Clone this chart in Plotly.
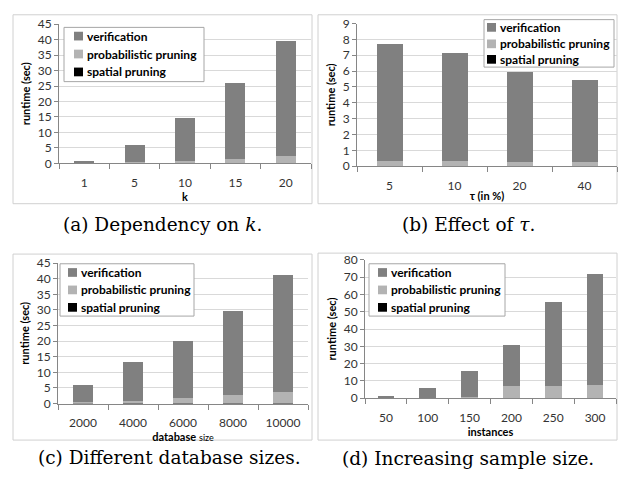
import plotly.graph_objects as go

W, H = 624, 481

# ---- data ----
k_cats = ["1", "5", "10", "15", "20"]
k_total = [0.9, 5.85, 14.8, 26.0, 39.6]
k_prob = [0.05, 0.5, 0.8, 1.35, 2.3]
k_spatial = [0.02, 0.03, 0.04, 0.05, 0.06]

tau_cats = ["5", "10", "20", "40"]
tau_total = [7.72, 7.12, 5.93, 5.42]
tau_prob = [0.33, 0.34, 0.27, 0.27]
tau_spatial = [0.01, 0.01, 0.01, 0.01]

db_cats = ["2000", "4000", "6000", "8000", "10000"]
db_total = [6.0, 13.2, 20.0, 29.5, 41.2]
db_prob = [0.4, 0.9, 1.65, 2.6, 3.7]
db_spatial = [0.02, 0.03, 0.04, 0.05, 0.06]

inst_cats = ["50", "100", "150", "200", "250", "300"]
inst_total = [1.3, 5.9, 15.6, 30.9, 55.7, 71.6]
inst_prob = [0.2, 0.3, 0.4, 6.8, 6.9, 7.8]
inst_spatial = [0.05, 0.05, 0.05, 0.05, 0.05, 0.05]

series_names = ["spatial pruning", "probabilistic pruning", "verification"]
colors = ["#000000", "#b3b3b3", "#808080"]


def px_x(p):
    return p / W


def px_y(p):
    return 1 - p / H


panels = [
    dict(cats=k_cats, total=k_total, prob=k_prob, spatial=k_spatial,
         xr=(59, 311), yr=(16.7, 160.3), ymax=45, dt=5, xtitle="<b>k</b>",
         lbox=(64, 20, 204, 76), lsw=74, lrows=(29, 47.5, 66)),
    dict(cats=tau_cats, total=tau_total, prob=tau_prob, spatial=tau_spatial,
         xr=(357, 617), yr=(16.0, 163.3), ymax=9, dt=1, xtitle="<b>τ (in %)</b>",
         lbox=(484, 12, 614, 61), lsw=487, lrows=(20, 37, 53)),
    dict(cats=db_cats, total=db_total, prob=db_prob, spatial=db_spatial,
         xr=(58, 308), yr=(263.3, 408.3), ymax=45, dt=5,
         xtitle="<b>database</b> <span style='font-size:9px'>size</span>",
         lbox=(60, 264, 194, 318), lsw=68, lrows=(273, 291, 309)),
    dict(cats=inst_cats, total=inst_total, prob=inst_prob, spatial=inst_spatial,
         xr=(365, 616), yr=(260.0, 402.7), ymax=80, dt=10, xtitle="<b>instances</b>",
         lbox=(369, 264, 505, 318), lsw=378, lrows=(273, 291, 309)),
]

fig = go.Figure()
layout = dict(
    width=W, height=H, margin=dict(l=0, r=0, t=0, b=0),
    paper_bgcolor="white", plot_bgcolor="white",
    barmode="stack", bargap=0.6, showlegend=False,
    font=dict(family="Lato, Arial, sans-serif", size=12, color="#333333"),
)

shapes = []
annotations = []

for i, p in enumerate(panels):
    n = i + 1
    xa = "x" if n == 1 else f"x{n}"
    ya = "y" if n == 1 else f"y{n}"
    verif = [t - pr - s for t, pr, s in zip(p["total"], p["prob"], p["spatial"])]
    vals = [p["spatial"], p["prob"], verif]
    for name, col, v in zip(series_names, colors, vals):
        fig.add_trace(go.Bar(
            x=p["cats"], y=v, name=name, marker=dict(color=col, line=dict(width=0)),
            xaxis=xa, yaxis=ya, hoverinfo="skip", showlegend=False,
        ))
    xkey = "xaxis" if n == 1 else f"xaxis{n}"
    ykey = "yaxis" if n == 1 else f"yaxis{n}"
    layout[xkey] = dict(
        domain=[px_x(p["xr"][0]), px_x(p["xr"][1])], anchor=ya, type="category",
        showline=True, linecolor="#868686", linewidth=1,
        ticks="outside", tickson="boundaries", ticklen=5, tickcolor="#868686",
        showgrid=False, ticklabelstandoff=8,
        tickfont=dict(size=12, color="#333333"),
        title=dict(text=p["xtitle"], font=dict(size=11, color="#000000"), standoff=0),
    )
    layout[ykey] = dict(
        domain=[px_y(p["yr"][1]), px_y(p["yr"][0])], anchor=xa, range=[0, p["ymax"]], dtick=p["dt"],
        showline=True, linecolor="#868686", linewidth=1,
        ticks="outside", ticklen=4, tickcolor="#868686",
        showgrid=True, gridcolor="#d9d9d9", gridwidth=1, zeroline=False,
        tickfont=dict(size=12, color="#333333"),
        title=dict(text="<b>runtime (sec)</b>", font=dict(size=11, color="#000000"), standoff=4),
    )

    # legend box (drawn like the original spreadsheet legend)
    bx0, by0, bx1, by1 = p["lbox"]
    shapes.append(dict(type="rect", xref="paper", yref="paper",
                       x0=px_x(bx0), x1=px_x(bx1), y0=px_y(by1), y1=px_y(by0),
                       line=dict(color="#a6a6a6", width=1), fillcolor="white", layer="above"))
    order = [2, 1, 0]  # verification, probabilistic, spatial
    for row, si in zip(p["lrows"], order):
        sw = 9
        shapes.append(dict(type="rect", xref="paper", yref="paper",
                           x0=px_x(p["lsw"]), x1=px_x(p["lsw"] + sw),
                           y0=px_y(row + sw / 2), y1=px_y(row - sw / 2),
                           line=dict(width=0), fillcolor=colors[si], layer="above"))
        annotations.append(dict(text=series_names[si], x=px_x(p["lsw"] + sw + 1.5), y=px_y(row),
                                xref="paper", yref="paper", xanchor="left", yanchor="middle",
                                showarrow=False,
                                font=dict(family="Lato, Arial, sans-serif", size=12,
                                          color="#000000", weight="bold")))

# outer boxes around each chart
boxes = [(13, 7, 312, 202), (318, 7, 617, 202), (13, 254, 312, 446), (318, 253, 617, 446)]
for x0, y0, x1, y1 in boxes:
    shapes.append(dict(type="rect", xref="paper", yref="paper",
                       x0=px_x(x0), x1=px_x(x1), y0=px_y(y1), y1=px_y(y0),
                       line=dict(color="#d0d0d0", width=1), fillcolor="rgba(0,0,0,0)", layer="below"))

captions = [
    ("(a) Dependency on <i>k</i>.", 162, 223),
    ("(b) Effect of <i>τ</i>.", 468, 223),
    ("(c) Different database sizes.", 170, 464),
    ("(d) Increasing sample size.", 468, 465),
]
for text, cx, cy in captions:
    annotations.append(dict(text=text, x=px_x(cx), y=px_y(cy), xref="paper", yref="paper",
                            xanchor="center", yanchor="middle", showarrow=False,
                            font=dict(family="DejaVu Serif", size=18.5, color="#000000")))

layout["shapes"] = shapes
layout["annotations"] = annotations
fig.update_layout(**layout)
fig.write_html("out.html", post_script="document.body.style.margin='0px';",
               config={"displayModeBar": False})
